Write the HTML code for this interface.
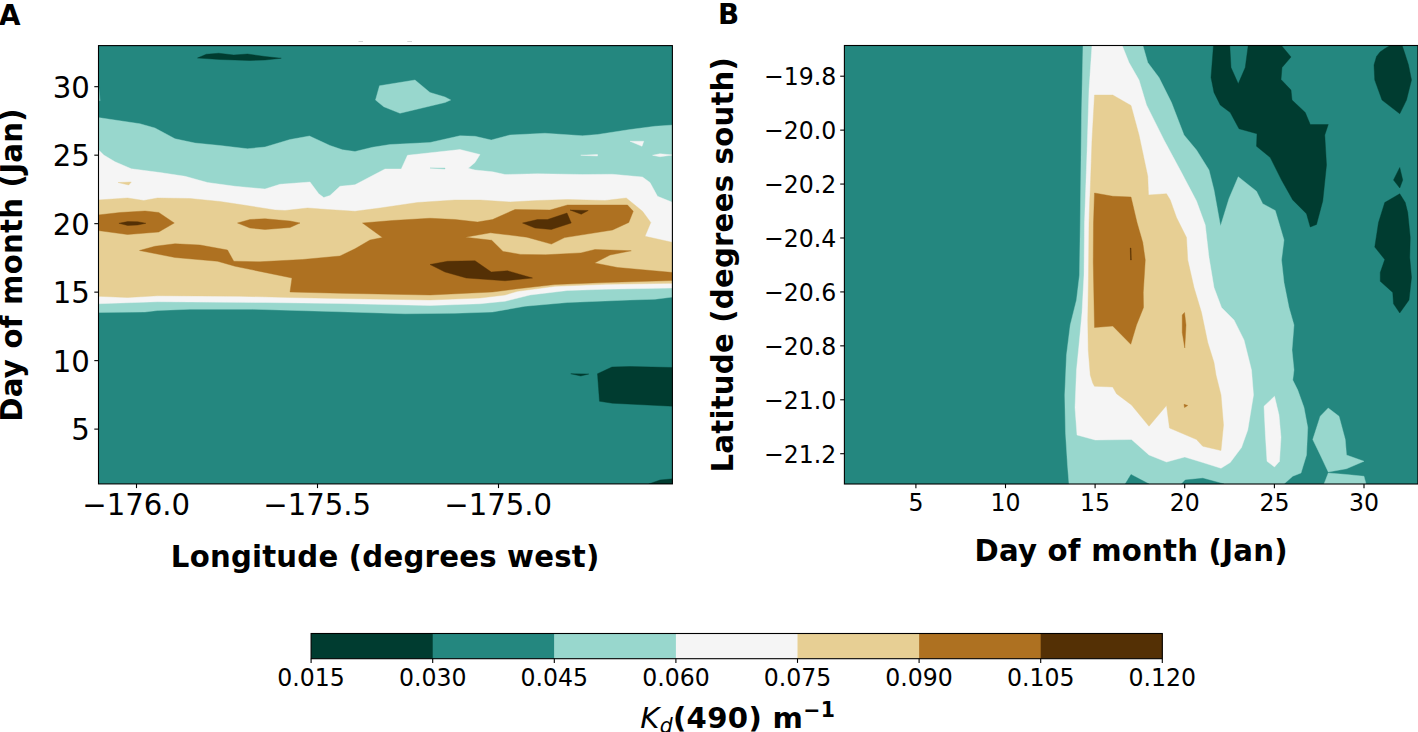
<!DOCTYPE html>
<html><head><meta charset="utf-8"><title>Kd490 contour panels</title>
<style>
html,body{margin:0;padding:0;background:#fff;}
svg{display:block;}
text{font-family:"DejaVu Sans","Liberation Sans",sans-serif;fill:#000;}
</style></head><body>
<svg width="1418" height="732" viewBox="0 0 1418 732">
<rect width="1418" height="732" fill="#fff"/>
<defs>
<clipPath id="ca"><rect x="98.5" y="45.6" width="573.9" height="438.3"/></clipPath>
<clipPath id="cb"><rect x="844.4" y="45.5" width="573.5" height="438.5"/></clipPath>
</defs>
<rect x="98.5" y="45.6" width="573.9" height="438.3" fill="#24877f"/>
<g clip-path="url(#ca)">
<polygon points="98,117.5 140,123.75 155,128 175,138.75 195,143 220,145.5 247.5,148.75 265,147 290,139.5 309.5,136 330,145.5 342.5,149.75 355,151.5 372.5,147.25 390,144.5 430,142.5 460,135.75 475,136.25 491.25,140 510,135 545,133.25 582.5,135.75 597.5,134.5 630,129.5 655,126.25 673,125 673,297 655,299.25 630,300 567.5,302.5 525,306.25 492.5,312 455,313.25 405,313.75 340,311.75 252.5,309.25 190,309.25 157.5,310.5 145,312 98,312.5" fill="#98d7cd" stroke="#98d7cd" stroke-width="0.4" />
<polygon points="98,149.25 103.75,155 115,161.75 131.25,168.75 160,172.5 185,176.25 207.5,182.5 235,186.25 265,189 280,184.25 310,182 318.75,193.75 323.75,197.5 330,195.5 340,186.25 355,184.75 385,169 401.25,169 407.5,155.25 460,149.5 480,154.5 475,162.5 468.25,168.25 475,170 492.5,171.75 505,174.5 537.5,173.75 582.5,174.5 612.5,174.25 642.5,177 650,182.5 657.5,196.25 673,202.5 673,288 605,289.25 567.5,290.5 530,295 505,301.25 480,303.75 430,305.5 340,303.5 265,302.5 157.5,301.75 98,303.75" fill="#f5f5f5" stroke="#f5f5f5" stroke-width="0.4" />
<polygon points="98,200 127.5,198 143.75,200.5 157.5,198 190,198.5 220,201.5 245,205.25 275,210 285,210.5 307.5,208 327.5,209.5 355,211.25 380,208 417.5,202.5 455,200 480,200 510,202 537.5,200.5 567.5,199.5 605,200.5 626.25,198 642.5,211.25 650.75,222.5 645,236.25 673,242.5 673,283.25 605,284.25 555,286.25 517.5,291.25 505,295 480,298 430,300 340,298.5 290,297.5 240,296.25 157.5,295.75 127.5,297.5 98,296.25" fill="#e7cf94" stroke="#e7cf94" stroke-width="0.4" />
<polygon points="98,215 120,212.5 145,211 158.75,212.5 174.25,223 158.75,232 127.5,234.5 98,230.5" fill="#ae7121" stroke="#ae7121" stroke-width="0.4" />
<polygon points="237.5,223 250,219.5 265,218.75 290,221 300,223 290,227.5 265,229.5 250,228" fill="#ae7121" stroke="#ae7121" stroke-width="0.4" />
<polygon points="139.5,250.5 155,246.25 175,243.75 200,245 227.5,250 233.75,261.25 260,261.75 302.5,259.5 340,256 355,248.75 370,240 382.5,237.5 362.5,223 392.5,220.5 430,218.25 455,219.5 477.5,222 492.5,219.5 515,209.5 550,210 567.5,205 627.5,205 633.25,211.25 628.75,222.5 612.5,230 564.6,237.6 551.4,244.1 526.9,237.2 505,234.5 490.4,232.8 465.3,237.2 491.7,240.3 503,251.4 520.6,254.4 545.7,254.8 580.9,252.9 595,249.5 631.25,250.75 610,255 594.5,263 617.5,267.5 673,272.5 673,280.5 605,282.5 555,284.5 517.5,288.75 492.5,292 430,295 340,293.25 290,292 292,278 235,266.25 217.5,261.25 175,257.5" fill="#ae7121" stroke="#ae7121" stroke-width="0.4" />
<polygon points="118.9,223.3 127.7,221.6 137.7,221.7 145.9,223.3 137.7,225 127.7,225.5" fill="#543005" stroke="#543005" stroke-width="0.4" />
<polygon points="522.5,223 537.5,219.5 547.5,219.5 567,213 571.25,223 551.25,229.5 535,228" fill="#543005" stroke="#543005" stroke-width="0.4" />
<polygon points="570,210 588.25,210.5 581.25,214.25" fill="#543005" stroke="#543005" stroke-width="0.4" />
<polygon points="430,264.5 447.5,261.25 475,260.75 491.25,272 507.5,270.75 532.5,278 505,280.75 466.25,278 445,272" fill="#543005" stroke="#543005" stroke-width="0.4" />
<polygon points="375.5,100 379.5,85.75 415,80 430,92.5 445,97 450.75,100 445,102.5 400,113.25 383.75,106.75" fill="#98d7cd" stroke="#98d7cd" stroke-width="0.4" />
<polygon points="197.5,58 206.25,54.25 218.75,53.25 233.75,55 247.5,54 265,56.5 281.25,58.25 265,60 250,60.5 220,59.5" fill="#003c30" stroke="#003c30" stroke-width="0.4" />
<polygon points="597.5,373.75 612,367 630,366.5 673,367.5 673,406.25 612.5,403.25 599.5,401.25" fill="#003c30" stroke="#003c30" stroke-width="0.4" />
<polygon points="570.75,373.75 588.75,374 580.75,376" fill="#003c30" stroke="#003c30" stroke-width="0.4" />
<polygon points="648.75,484 660,480 673,478.75 673,484" fill="#003c30" stroke="#003c30" stroke-width="0.4" />
<polygon points="118,182.5 131.25,182 128.75,185" fill="#e7cf94" stroke="#e7cf94" stroke-width="0.4" />
<polygon points="630,141.25 643.75,141.25 642,146.25" fill="#f5f5f5" stroke="#f5f5f5" stroke-width="0.4" />
<polygon points="580.75,155.25 597.5,154.5 597.5,156" fill="#f5f5f5" stroke="#f5f5f5" stroke-width="0.4" />
<polygon points="652.5,155.25 660,153.75 673,155 660,156.75" fill="#f5f5f5" stroke="#f5f5f5" stroke-width="0.4" />
<polygon points="430,168 445,168 445,169" fill="#98d7cd" stroke="#98d7cd" stroke-width="0.4" />
<polygon points="98.9,88.5 100.2,100.7 98.9,100.7" fill="#98d7cd" stroke="#98d7cd" stroke-width="0.4" opacity="0.7"/>
</g>
<rect x="98.5" y="45.6" width="573.9" height="438.3" fill="none" stroke="#000" stroke-width="1.1"/>
<rect x="844.4" y="45.5" width="573.5" height="438.5" fill="#24877f"/>
<g clip-path="url(#cb)">
<polygon points="1083,45 1081.5,115 1080.25,223 1079.5,275 1076.5,300 1070.25,325 1066.5,355 1064.75,395 1065.5,432.5 1067.5,465 1069,484 1284,484 1292.75,476.25 1301,473 1306.5,455 1307.75,427.5 1304,407.5 1297.75,390 1292.75,380 1294,370 1292,350 1294,325 1289,307.5 1284,282.5 1281.5,260 1284,240 1279,223 1275.25,210.5 1262.75,203.75 1256.5,191.25 1238.25,176.75 1229,198.5 1220.5,226 1214,190 1209,170 1196.5,150 1184,135 1171.5,102.5 1159,77.5 1147.75,62.5 1142.75,45" fill="#98d7cd" stroke="#98d7cd" stroke-width="0.4" />
<polygon points="1125.25,484 1131,474.5 1149,484" fill="#24877f" stroke="#24877f" stroke-width="0.4" />
<polygon points="1181.5,484 1185.25,480 1202.75,478.25 1224,484" fill="#24877f" stroke="#24877f" stroke-width="0.4" />
<polygon points="1092,45 1089,90 1087,152.5 1084.5,223 1084,275 1082,312.5 1079,345 1076.5,370 1075,407.5 1077,435 1095.25,440 1131.5,439.5 1149,455 1166.5,462 1184.75,457 1202.75,462.5 1221,468.25 1230.25,462.5 1241.5,447.5 1247.75,430 1253.5,395 1251.5,370 1250.25,365 1244,340 1234,320 1221.5,307.5 1214,287.5 1209,257.5 1205.25,225 1196.5,201 1181.5,172.5 1164,140 1146.5,105 1139,80 1129,62.5 1122,45" fill="#f5f5f5" stroke="#f5f5f5" stroke-width="0.4" />
<polygon points="1094.5,95 1112.75,95 1131,105.5 1139,135 1147.75,176.25 1148.5,195 1166.5,193.75 1170.25,200 1176.5,217.5 1186.5,237.5 1187.75,260 1194,287.5 1201.5,312.5 1207.75,342.5 1214,362.5 1216,375 1221,395 1223.5,425 1221,450.5 1202.75,446.25 1196.5,439.5 1169.5,428 1166.5,405.5 1149,426.25 1131.5,405 1116.5,393.75 1112.75,387 1094.5,386.25 1092.75,383 1090.25,375 1088.25,350 1087.75,320 1088.5,275 1089,223 1089.75,200 1090.25,190 1092,140" fill="#e7cf94" stroke="#e7cf94" stroke-width="0.4" />
<polygon points="1094.5,193 1112.75,196.25 1131,197 1137,222.5 1142.75,242.5 1145.25,260 1143.25,292.5 1143.5,307.5 1136.5,325 1130.75,344.25 1112.75,326 1094.5,327.5 1093.25,262.5 1093.5,223" fill="#ae7121" stroke="#ae7121" stroke-width="0.4" />
<polygon points="1182.25,315 1184.5,312.5 1186,325 1184.75,348 1182.25,332.5" fill="#ae7121" stroke="#ae7121" stroke-width="0.4" />
<polygon points="1184,404.25 1187.75,405.5 1184.5,407.5" fill="#ae7121" stroke="#ae7121" stroke-width="0.4" />
<polygon points="1130.3,248 1131,248 1131.3,260 1130.6,260" fill="#543005" stroke="#543005" stroke-width="0.4" />
<polygon points="1264,406.25 1274.5,396.25 1279,415 1281,437.5 1279.5,461.25 1274.5,467 1267,461.25 1265.25,432.5" fill="#f5f5f5" stroke="#f5f5f5" stroke-width="0.4" />
<polygon points="1312.75,439.5 1320.25,416.25 1328.25,408 1339,416.25 1345.25,439.5 1346.5,455 1364,461.25 1346.5,468.75 1328.25,472 1320.25,455" fill="#98d7cd" stroke="#98d7cd" stroke-width="0.4" />
<polygon points="1328.25,473 1346.5,474.5 1364,476.25 1366,484 1324,484" fill="#98d7cd" stroke="#98d7cd" stroke-width="0.4" />
<polygon points="1213.5,45 1211,77.5 1214,92.5 1220.25,105 1230.25,112.5 1239,128.75 1257,133.75 1256.5,146.25 1270.25,157.5 1281.5,180 1292.75,200 1306.5,213.75 1310.25,227 1316.5,224.5 1322.75,201 1326.5,165 1324.75,135 1328.25,124.5 1310.25,124.5 1305.25,112.5 1292,100 1291,90 1281,79.5 1282,67.5 1291,57 1281,45 1248.25,45 1245.25,67.5 1238.25,83.75 1231,67.5 1229.75,45" fill="#003c30" stroke="#003c30" stroke-width="0.4" />
<polygon points="1385,48.5 1391,45 1402,45 1405,54 1408.5,65 1411.5,80 1406.5,100 1399.75,113.75 1382,100 1374.75,80 1374,65 1376.5,56.5 1380,52" fill="#003c30" stroke="#003c30" stroke-width="0.4" />
<polygon points="1399.75,167.5 1402.75,180 1399.75,188 1393.5,180" fill="#003c30" stroke="#003c30" stroke-width="0.4" />
<polygon points="1399.75,193.75 1405.25,202.5 1407.75,212.5 1410.25,237.5 1409.75,257.5 1411.5,277.5 1409,300 1399.75,313 1393.5,303.75 1392.75,292.5 1380.25,281.25 1380.25,272.5 1384.75,259.5 1374.75,247 1378.5,222.5 1384.75,202.5" fill="#003c30" stroke="#003c30" stroke-width="0.4" />
</g>
<rect x="844.4" y="45.5" width="573.5" height="438.5" fill="none" stroke="#000" stroke-width="1.1"/>
<line x1="94.3" y1="86.687" x2="98.5" y2="86.687" stroke="#000" stroke-width="1.1"/>
<text x="0" y="0" font-size="29.17" text-anchor="end" transform="translate(89.9,97.987) scale(1,1.035)" >30</text>
<line x1="94.3" y1="155.172" x2="98.5" y2="155.172" stroke="#000" stroke-width="1.1"/>
<text x="0" y="0" font-size="29.17" text-anchor="end" transform="translate(89.9,166.472) scale(1,1.035)" >25</text>
<line x1="94.3" y1="223.657" x2="98.5" y2="223.657" stroke="#000" stroke-width="1.1"/>
<text x="0" y="0" font-size="29.17" text-anchor="end" transform="translate(89.9,234.957) scale(1,1.035)" >20</text>
<line x1="94.3" y1="292.142" x2="98.5" y2="292.142" stroke="#000" stroke-width="1.1"/>
<text x="0" y="0" font-size="29.17" text-anchor="end" transform="translate(89.9,303.442) scale(1,1.035)" >15</text>
<line x1="94.3" y1="360.627" x2="98.5" y2="360.627" stroke="#000" stroke-width="1.1"/>
<text x="0" y="0" font-size="29.17" text-anchor="end" transform="translate(89.9,371.927) scale(1,1.035)" >10</text>
<line x1="94.3" y1="429.112" x2="98.5" y2="429.112" stroke="#000" stroke-width="1.1"/>
<text x="0" y="0" font-size="29.17" text-anchor="end" transform="translate(89.9,440.412) scale(1,1.035)" >5</text>
<line x1="136.5" y1="483.9" x2="136.5" y2="488.1" stroke="#000" stroke-width="1.1"/>
<text x="0" y="0" font-size="29.17" text-anchor="middle" transform="translate(136.2,514.9) scale(1,1.035)" >−176.0</text>
<line x1="317.5" y1="483.9" x2="317.5" y2="488.1" stroke="#000" stroke-width="1.1"/>
<text x="0" y="0" font-size="29.17" text-anchor="middle" transform="translate(317.2,514.9) scale(1,1.035)" >−175.5</text>
<line x1="498.5" y1="483.9" x2="498.5" y2="488.1" stroke="#000" stroke-width="1.1"/>
<text x="0" y="0" font-size="29.17" text-anchor="middle" transform="translate(498.2,514.9) scale(1,1.035)" >−175.0</text>
<line x1="840.2" y1="76.2" x2="844.4" y2="76.2" stroke="#000" stroke-width="1.1"/>
<text x="0" y="0" font-size="23.6" text-anchor="end" transform="translate(836.2,85.2) scale(1,1.045)" >−19.8</text>
<line x1="840.2" y1="130.13" x2="844.4" y2="130.13" stroke="#000" stroke-width="1.1"/>
<text x="0" y="0" font-size="23.6" text-anchor="end" transform="translate(836.2,139.13) scale(1,1.045)" >−20.0</text>
<line x1="840.2" y1="184.06" x2="844.4" y2="184.06" stroke="#000" stroke-width="1.1"/>
<text x="0" y="0" font-size="23.6" text-anchor="end" transform="translate(836.2,193.06) scale(1,1.045)" >−20.2</text>
<line x1="840.2" y1="237.99" x2="844.4" y2="237.99" stroke="#000" stroke-width="1.1"/>
<text x="0" y="0" font-size="23.6" text-anchor="end" transform="translate(836.2,246.99) scale(1,1.045)" >−20.4</text>
<line x1="840.2" y1="291.92" x2="844.4" y2="291.92" stroke="#000" stroke-width="1.1"/>
<text x="0" y="0" font-size="23.6" text-anchor="end" transform="translate(836.2,300.92) scale(1,1.045)" >−20.6</text>
<line x1="840.2" y1="345.85" x2="844.4" y2="345.85" stroke="#000" stroke-width="1.1"/>
<text x="0" y="0" font-size="23.6" text-anchor="end" transform="translate(836.2,354.85) scale(1,1.045)" >−20.8</text>
<line x1="840.2" y1="399.78" x2="844.4" y2="399.78" stroke="#000" stroke-width="1.1"/>
<text x="0" y="0" font-size="23.6" text-anchor="end" transform="translate(836.2,408.78) scale(1,1.045)" >−21.0</text>
<line x1="840.2" y1="453.71" x2="844.4" y2="453.71" stroke="#000" stroke-width="1.1"/>
<text x="0" y="0" font-size="23.6" text-anchor="end" transform="translate(836.2,462.71) scale(1,1.045)" >−21.2</text>
<line x1="915.9" y1="484" x2="915.9" y2="488.2" stroke="#000" stroke-width="1.1"/>
<text x="0" y="0" font-size="23.6" text-anchor="middle" transform="translate(915.9,510.5) scale(1,1.045)" >5</text>
<line x1="1005.5" y1="484" x2="1005.5" y2="488.2" stroke="#000" stroke-width="1.1"/>
<text x="0" y="0" font-size="23.6" text-anchor="middle" transform="translate(1005.5,510.5) scale(1,1.045)" >10</text>
<line x1="1095.1" y1="484" x2="1095.1" y2="488.2" stroke="#000" stroke-width="1.1"/>
<text x="0" y="0" font-size="23.6" text-anchor="middle" transform="translate(1095.1,510.5) scale(1,1.045)" >15</text>
<line x1="1184.7" y1="484" x2="1184.7" y2="488.2" stroke="#000" stroke-width="1.1"/>
<text x="0" y="0" font-size="23.6" text-anchor="middle" transform="translate(1184.7,510.5) scale(1,1.045)" >20</text>
<line x1="1274.4" y1="484" x2="1274.4" y2="488.2" stroke="#000" stroke-width="1.1"/>
<text x="0" y="0" font-size="23.6" text-anchor="middle" transform="translate(1274.4,510.5) scale(1,1.045)" >25</text>
<line x1="1364" y1="484" x2="1364" y2="488.2" stroke="#000" stroke-width="1.1"/>
<text x="0" y="0" font-size="23.6" text-anchor="middle" transform="translate(1364,510.5) scale(1,1.045)" >30</text>
<text x="0" y="0" font-size="29.17" text-anchor="start" font-weight="bold" transform="translate(170.85,566.8) scale(1,1.02)" textLength="428.5">Longitude (degrees west)</text>
<text x="0" y="0" font-size="29.17" text-anchor="start" font-weight="bold" transform="translate(974.5,561) scale(1,1.02)" textLength="313">Day of month (Jan)</text>
<text x="-156.6" y="0" font-size="29.17" text-anchor="start" font-weight="bold" transform="translate(22.4,265.1) rotate(-90) scale(1,1.02)" textLength="313.2">Day of month (Jan)</text>
<text x="-207.7" y="0" font-size="29.17" text-anchor="start" font-weight="bold" transform="translate(733.2,264.8) rotate(-90) scale(1,1.02)" textLength="415.4">Latitude (degrees south)</text>
<text x="0" y="0" font-size="27.78" text-anchor="start" font-weight="bold" transform="translate(-1,24.5) scale(1,1.02)" >A</text>
<text x="0" y="0" font-size="27.78" text-anchor="start" font-weight="bold" transform="translate(718.1,24.3) scale(1,1.02)" >B</text>
<line x1="358.5" y1="41.5" x2="363" y2="41.5" stroke="#c4c4c4" stroke-width="0.7"/>
<line x1="407.3" y1="41.5" x2="412" y2="41.5" stroke="#c4c4c4" stroke-width="0.7"/>
<rect x="311.1" y="633.5" width="121.9" height="25.2" fill="#003c30"/>
<rect x="432.7" y="633.5" width="121.9" height="25.2" fill="#24877f"/>
<rect x="554.3" y="633.5" width="121.9" height="25.2" fill="#98d7cd"/>
<rect x="675.9" y="633.5" width="121.9" height="25.2" fill="#f5f5f5"/>
<rect x="797.5" y="633.5" width="121.9" height="25.2" fill="#e7cf94"/>
<rect x="919.1" y="633.5" width="121.9" height="25.2" fill="#ae7121"/>
<rect x="1040.7" y="633.5" width="121.9" height="25.2" fill="#543005"/>
<rect x="311.1" y="633.5" width="851.2" height="25.2" fill="none" stroke="#000" stroke-width="1.1"/>
<line x1="311.1" y1="658.7" x2="311.1" y2="662.9" stroke="#000" stroke-width="1.1"/>
<text x="0" y="0" font-size="23.6" text-anchor="middle" transform="translate(311.1,685.8) scale(1,1.045)" >0.015</text>
<line x1="432.7" y1="658.7" x2="432.7" y2="662.9" stroke="#000" stroke-width="1.1"/>
<text x="0" y="0" font-size="23.6" text-anchor="middle" transform="translate(432.7,685.8) scale(1,1.045)" >0.030</text>
<line x1="554.3" y1="658.7" x2="554.3" y2="662.9" stroke="#000" stroke-width="1.1"/>
<text x="0" y="0" font-size="23.6" text-anchor="middle" transform="translate(554.3,685.8) scale(1,1.045)" >0.045</text>
<line x1="675.9" y1="658.7" x2="675.9" y2="662.9" stroke="#000" stroke-width="1.1"/>
<text x="0" y="0" font-size="23.6" text-anchor="middle" transform="translate(675.9,685.8) scale(1,1.045)" >0.060</text>
<line x1="797.5" y1="658.7" x2="797.5" y2="662.9" stroke="#000" stroke-width="1.1"/>
<text x="0" y="0" font-size="23.6" text-anchor="middle" transform="translate(797.5,685.8) scale(1,1.045)" >0.075</text>
<line x1="919.1" y1="658.7" x2="919.1" y2="662.9" stroke="#000" stroke-width="1.1"/>
<text x="0" y="0" font-size="23.6" text-anchor="middle" transform="translate(919.1,685.8) scale(1,1.045)" >0.090</text>
<line x1="1040.7" y1="658.7" x2="1040.7" y2="662.9" stroke="#000" stroke-width="1.1"/>
<text x="0" y="0" font-size="23.6" text-anchor="middle" transform="translate(1040.7,685.8) scale(1,1.045)" >0.105</text>
<line x1="1162.3" y1="658.7" x2="1162.3" y2="662.9" stroke="#000" stroke-width="1.1"/>
<text x="0" y="0" font-size="23.6" text-anchor="middle" transform="translate(1162.3,685.8) scale(1,1.045)" >0.120</text>
<text x="0" y="0" transform="translate(640.2,727.8)" font-size="29.17" letter-spacing="0.32"><tspan font-style="oblique">K</tspan><tspan font-style="oblique" font-size="20.42" dy="4.7">d</tspan><tspan font-weight="bold" dy="-4.7">(490) m</tspan><tspan font-weight="bold" font-size="20.42" dy="-10.6">−1</tspan></text>
</svg>
</body></html>
